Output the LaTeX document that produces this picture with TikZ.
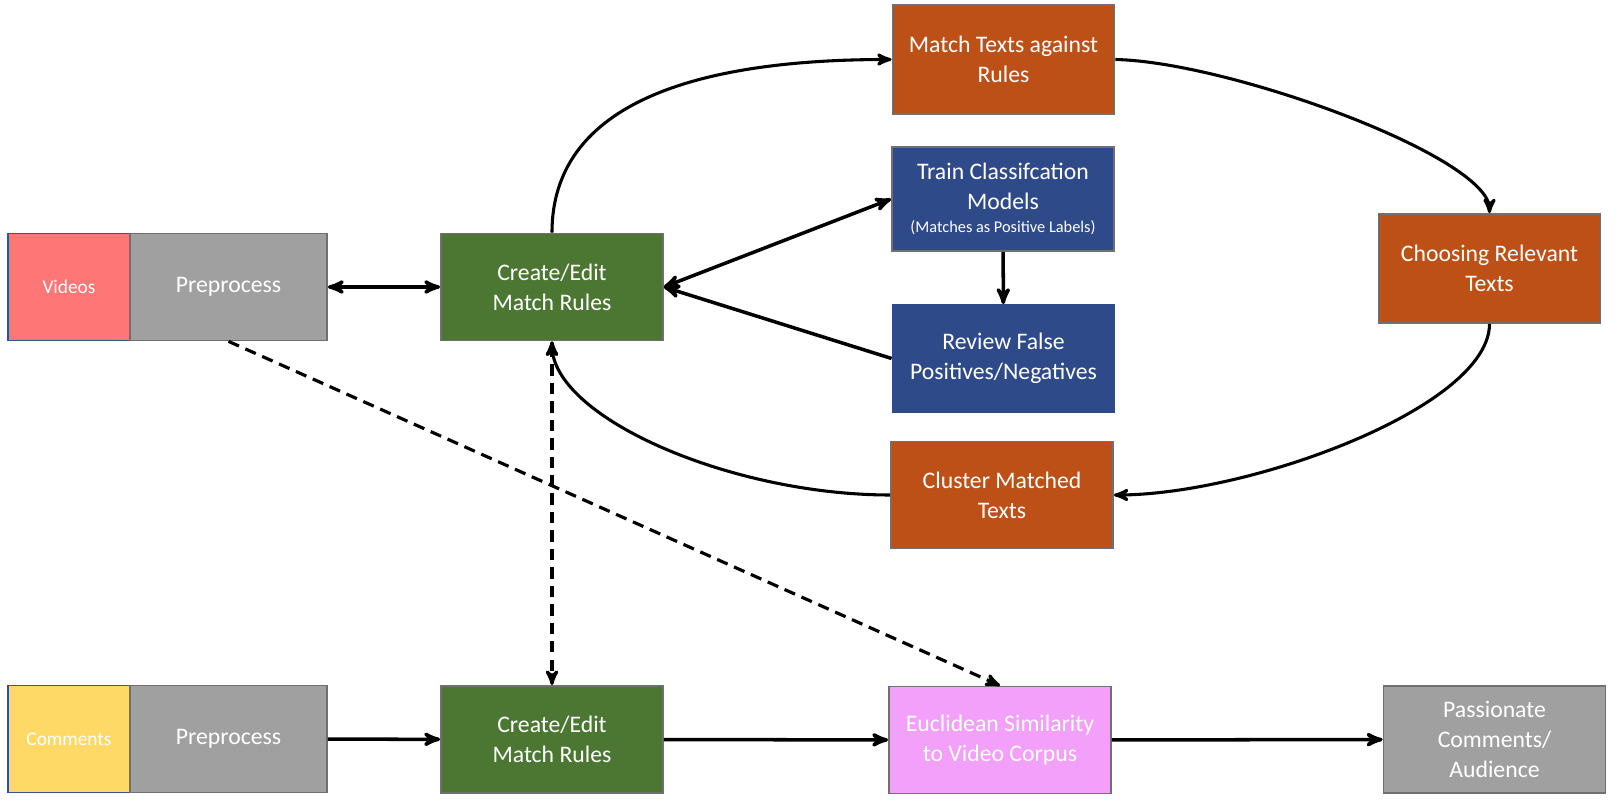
\documentclass[tikz,border=0pt]{standalone}
\usepackage{fontspec}
\setmainfont{Carlito}
\usetikzlibrary{shapes.geometric, arrows}

\definecolor{vidred}{HTML}{FF7676}
\definecolor{comyellow}{HTML}{FFD966}
\definecolor{srcblue}{HTML}{2F5597}
\definecolor{stepgray}{HTML}{A0A0A0}
\definecolor{edgegray}{HTML}{707070}
\definecolor{rulegreen}{HTML}{4B7733}
\definecolor{textorange}{HTML}{BC5017}
\definecolor{modelblue}{HTML}{2E4A89}
\definecolor{simpink}{HTML}{F2A0F9}

\begin{document}
\begin{tikzpicture}[
  >=stealth',
  semithick,
  every node/.style={text=white, align=center, font=\fontsize{13.5}{17}\selectfont},
  box/.style={draw=edgegray, rectangle, line width=1pt, inner sep=0pt,
    minimum width=4.44cm, minimum height=2.14cm},
  link/.style={line width=2pt},
  loop/.style={line width=1.75pt},
  hint/.style={line width=1.8pt, dash pattern=on 6.5pt off 4pt},
]
\useasboundingbox (0,0) rectangle (32.44,16.14);

\node[box, fill=vidred, draw=srcblue, minimum width=2.44cm, font=\fontsize{11}{13}\selectfont] (V) at (1.38,10.40) {Videos};
\node[box, fill=stepgray, minimum width=3.94cm] (P) at (4.57,10.40) {Preprocess};
\node[box, fill=rulegreen] (C) at (11.04,10.40) {Create/Edit\\Match Rules};
\node[box, fill=textorange, minimum height=2.18cm] (M) at (20.07,14.95) {Match Texts against\\Rules};
\node[box, fill=modelblue, minimum height=2.08cm] (T) at (20.06,12.16) {Train Classifcation\\Models\\[-4pt]{\fontsize{9.3}{11}\selectfont (Matches as Positive Labels)}};
\node[box, fill=modelblue, draw=modelblue] (R) at (20.07,8.97) {Review False\\Positives/Negatives};
\node[box, fill=textorange, minimum height=2.18cm] (H) at (29.79,10.77) {Choosing Relevant\\Texts};
\node[box, fill=textorange] (K) at (20.04,6.24) {Cluster Matched\\Texts};

\node[box, fill=comyellow, draw=srcblue, minimum width=2.44cm, font=\fontsize{11}{13}\selectfont] (W) at (1.38,1.36) {Comments};
\node[box, fill=stepgray, minimum width=3.94cm] (Q) at (4.57,1.36) {Preprocess};
\node[box, fill=rulegreen] (D) at (11.04,1.35) {Create/Edit\\Match Rules};
\node[box, fill=simpink] (E) at (20.00,1.34) {Euclidean Similarity\\to Video Corpus};
\node[box, fill=stepgray] (F) at (29.89,1.35) {Passionate\\Comments/\\Audience};

% loop round the rules
\draw[->, loop] (C.north) .. controls (11.04,14.46) and (14.84,14.95) .. (M.west);
\draw[->, loop] (M.east) .. controls (24.6,14.9) and (29.79,13.0) .. (H.north);
\draw[->, loop] (H.south) .. controls (29.79,8.0) and (25.0,6.24) .. (K.east);
\draw[->, loop] (K.west) .. controls (14.6,6.24) and (11.04,7.8) .. (C.south);

\draw[<->, link] (P) -- (C);
\draw[<->, link] (C.east) -- (T.west);
\draw[->, link] (R.west) -- (C.east);
\draw[->, link] (T) -- (R);

\draw[->, hint] (P.south) -- (E.north);
\draw[<->, hint] (C.south) -- (D.north);

\draw[->, link] (Q) -- (D);
\draw[->, link] (D) -- (E);
\draw[->, link] (E) -- (F);

\end{tikzpicture}
\end{document}
